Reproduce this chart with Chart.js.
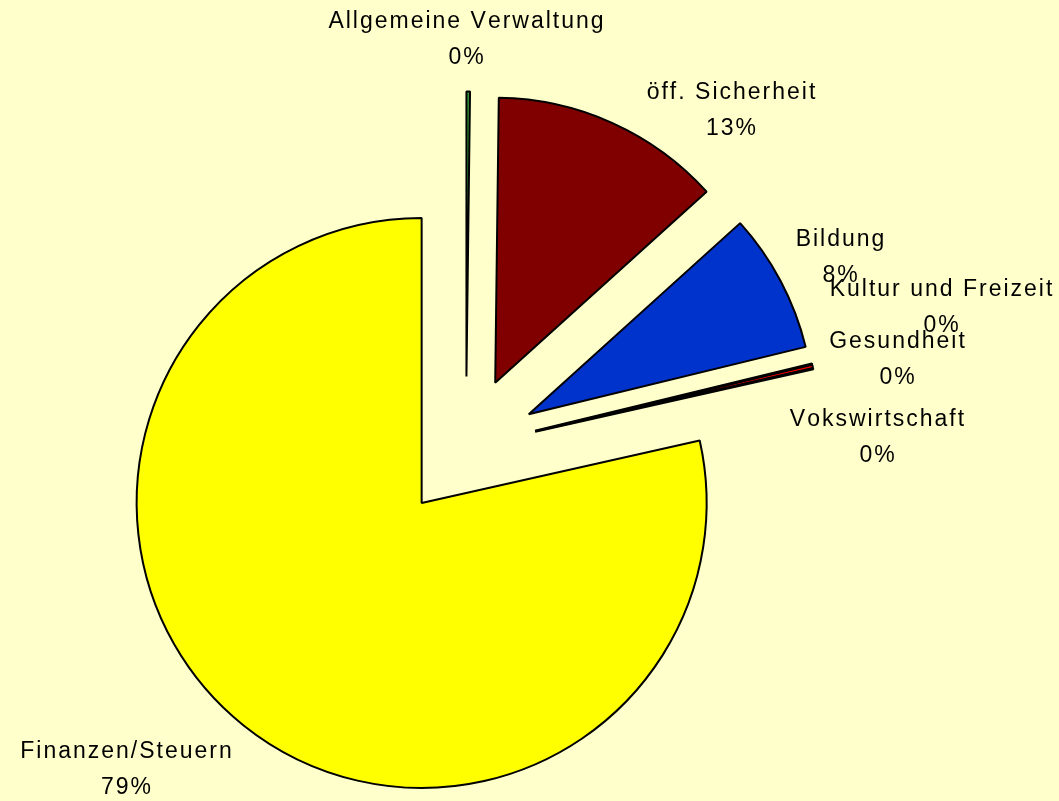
<!DOCTYPE html>
<html>
<head>
<meta charset="utf-8">
<title>Ausgaben nach Bereichen</title>
<script src="https://cdn.jsdelivr.net/npm/chart.js@4/dist/chart.umd.min.js"></script>
<style>
  html, body { margin: 0; padding: 0; background: #ffffcc; }
  canvas { display: block; }
</style>
</head>
<body>
<canvas id="pie" width="1059" height="801"></canvas>
<script>
// slices, clockwise from 12 o'clock (Excel order)
const categories = [
  "Allgemeine Verwaltung",
  "öff. Sicherheit",
  "Bildung",
  "Kultur und Freizeit",
  "Gesundheit",
  "Vokswirtschaft",
  "Finanzen/Steuern",
];
const shares = [0.2, 13.1, 7.9, 0.05, 0.18, 0.05, 78.52];
const sliceColors = ["#339933", "#800000", "#0033cc", "#ff6600", "#ff0000", "#993300", "#ffff00"];

// where each data label sits (centre of the name line)
const labelSpots = [
  [466, 22], [731, 93], [840, 240], [941, 290], [897, 342], [877, 420], [126, 752],
];

const EXPLODE = 71;          // every slice is pulled out by the same distance
const LINE_GAP = 36;
const FONT = '23px "Liberation Sans", Arial, sans-serif';
const TRACKING = 2;          // Excel draws these labels with loose spacing

const total = shares.reduce((a, b) => a + b, 0);
const pctText = (v) => Math.round((v / total) * 100) + "%";

// draw every arc shifted outwards along its own bisector
const explodePlugin = {
  id: "explode",
  beforeDatasetDraw(chart, args) {
    const ctx = chart.ctx;
    args.meta.data.forEach((arc) => {
      const mid = (arc.startAngle + arc.endAngle) / 2;
      ctx.save();
      ctx.translate(Math.cos(mid) * EXPLODE, Math.sin(mid) * EXPLODE);
      arc.draw(ctx);
      ctx.restore();
    });
    return false;
  },
};

const drawSpaced = (ctx, text, cx, cy) => {
  const chars = [...text];
  const widths = chars.map((c) => ctx.measureText(c).width);
  const full = widths.reduce((a, b) => a + b, 0) + TRACKING * (chars.length - 1);
  let x = cx - full / 2;
  chars.forEach((c, i) => {
    ctx.fillText(c, x, cy);
    x += widths[i] + TRACKING;
  });
};

const labelPlugin = {
  id: "sliceLabels",
  afterDatasetsDraw(chart) {
    const ctx = chart.ctx;
    ctx.save();
    ctx.font = FONT;
    ctx.fillStyle = "#000";
    ctx.textAlign = "left";
    ctx.textBaseline = "middle";
    categories.forEach((name, i) => {
      const [x, y] = labelSpots[i];
      drawSpaced(ctx, name, x, y);
      drawSpaced(ctx, pctText(shares[i]), x, y + LINE_GAP);
    });
    ctx.restore();
  },
};

new Chart(document.getElementById("pie"), {
  type: "pie",
  data: {
    labels: categories,
    datasets: [{
      data: shares,
      backgroundColor: sliceColors,
      borderColor: "#000",
      borderWidth: 2,
      radius: 285,
      clip: false,
    }],
  },
  options: {
    responsive: false,
    animation: false,
    layout: { padding: { left: 0, right: 127, top: 94, bottom: 0 } },
    plugins: {
      legend: { display: false },
      tooltip: { enabled: false },
    },
  },
  plugins: [explodePlugin, labelPlugin],
});
</script>
</body>
</html>
